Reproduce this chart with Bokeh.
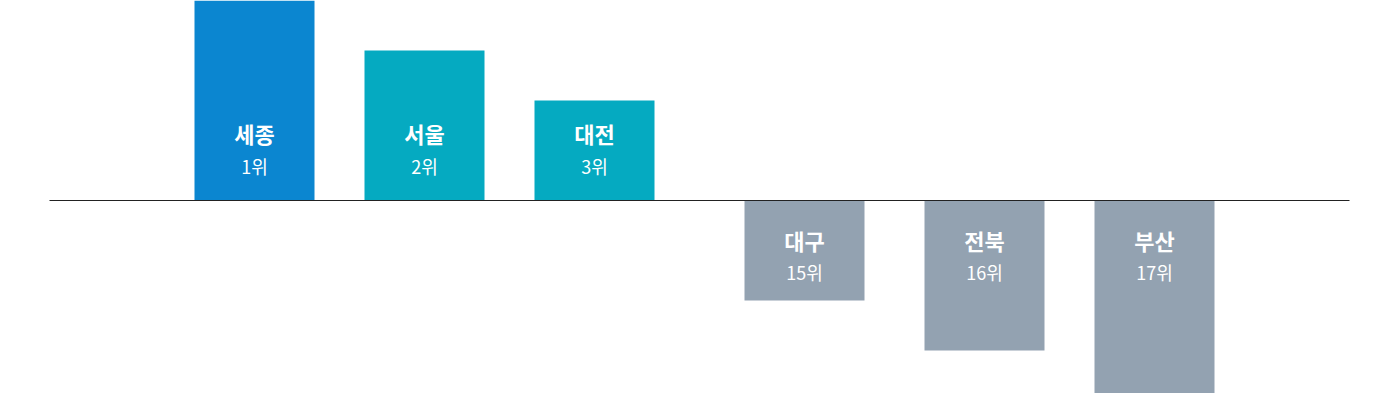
from bokeh.plotting import figure
from bokeh.models import ColumnDataSource, Range1d
from bokeh.core.properties import value
from bokeh.embed import file_html
from bokeh.resources import INLINE

# Data
regions = ["세종", "서울", "대전", "대구", "전북", "부산"]
ranks = ["1위", "2위", "3위", "15위", "16위", "17위"]
scores = [4, 3, 2, -2, -3, -4]

# Layout (bar slot centres in page pixels) and styles
slots = [254, 424, 594, 804, 984, 1154]
colors = ["#0b86d0", "#05aac1", "#05aac1", "#93a2b1", "#93a2b1", "#93a2b1"]


def subset(sign):
    idx = [i for i, v in enumerate(scores) if (v > 0) == (sign > 0)]
    return ColumnDataSource(dict(x=[slots[i] for i in idx],
                                 name=[regions[i] for i in idx],
                                 rank=[ranks[i] for i in idx],
                                 y=[0 for _ in idx]))


src = ColumnDataSource(dict(x=slots, top=scores, color=colors))
pos = subset(1)
neg = subset(-1)

p = figure(width=1384, height=393, output_backend="svg", toolbar_location=None,
           x_range=Range1d(0, 1384), y_range=Range1d(-3.86, 4.0),
           min_border=0)
p.axis.visible = False
p.grid.visible = False
p.outline_line_color = None
p.background_fill_color = "white"

p.vbar(x="x", top="top", bottom=0, width=120, fill_color="color", line_color=None, source=src)
p.segment(x0=[49], y0=[0], x1=[1349], y1=[0], line_color="#222222", line_width=1.2)

font = value("Noto Sans CJK KR")
p.text(x="x", y="y", text="name", source=pos, text_font=font, text_font_size="22px",
       text_font_style="bold", text_color="white", text_align="center",
       text_baseline="middle", y_offset=-68)
p.text(x="x", y="y", text="rank", source=pos, text_font=font, text_font_size="18px",
       text_color="white", text_align="center", text_baseline="middle", y_offset=-35)
p.text(x="x", y="y", text="name", source=neg, text_font=font, text_font_size="22px",
       text_font_style="bold", text_color="white", text_align="center",
       text_baseline="middle", y_offset=39)
p.text(x="x", y="y", text="rank", source=neg, text_font=font, text_font_size="18px",
       text_color="white", text_align="center", text_baseline="middle", y_offset=71)

open("out.html", "w").write(file_html(p, INLINE))
